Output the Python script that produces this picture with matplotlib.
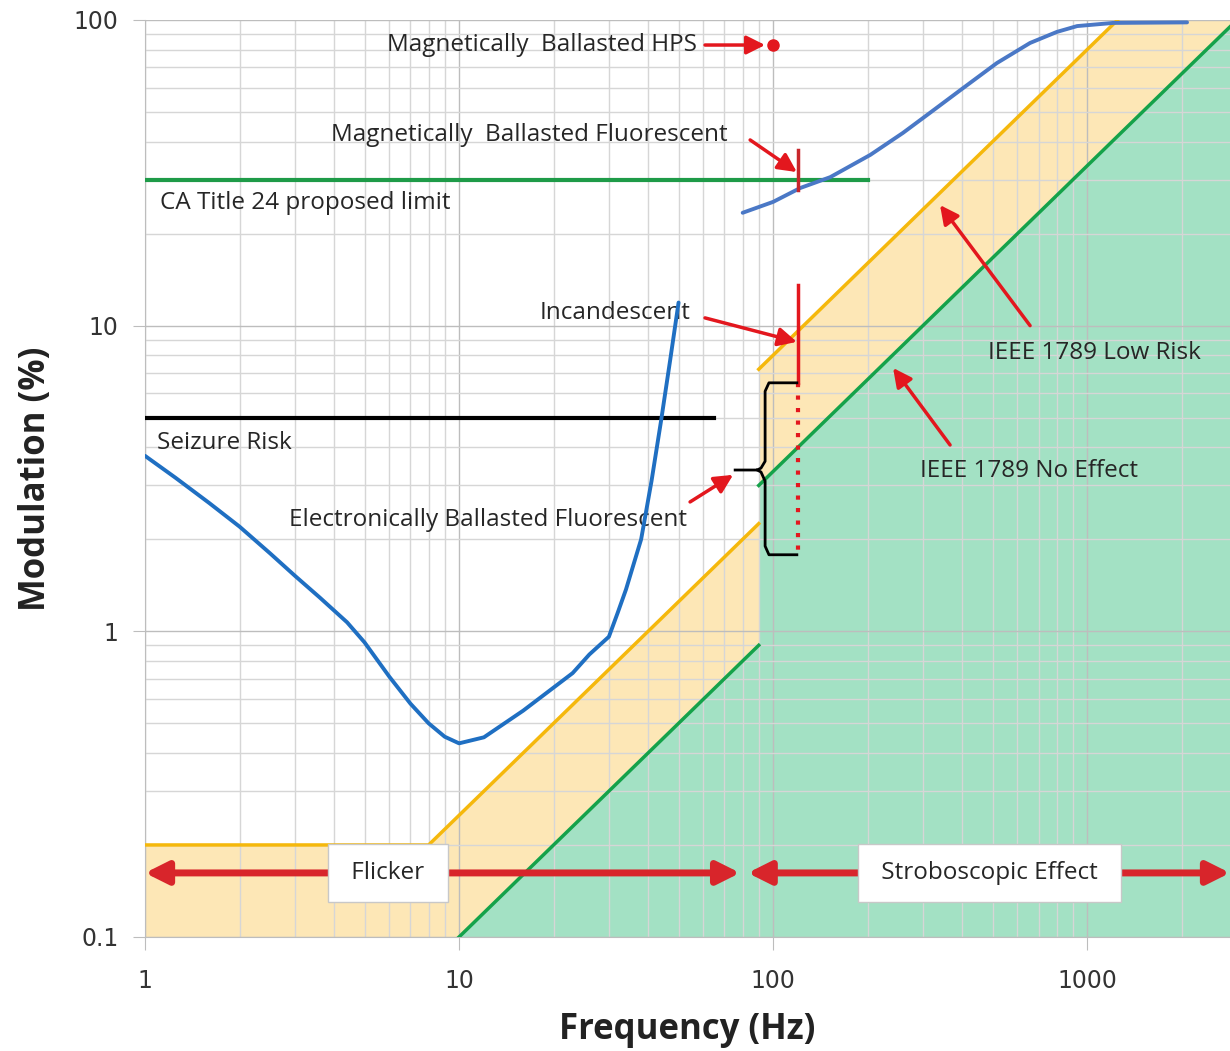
import matplotlib
matplotlib.use("Agg")
import matplotlib.pyplot as plt
from matplotlib.ticker import LogLocator, NullFormatter, FixedLocator, FixedFormatter

plt.rcParams['font.family'] = ['Open Sans', 'DejaVu Sans']

# --- data ---
# electronically ballasted fluorescent / visibility curve (left blue curve)
vis_freq = [1, 1.25, 1.6, 2, 2.5, 3, 3.6, 4.4, 5, 6, 7, 8, 9, 10, 12, 16, 23, 26, 30, 32,
            34, 38, 41, 44, 47, 50]
vis_mod = [3.75, 3.18, 2.63, 2.2, 1.8, 1.52, 1.29, 1.07, 0.92, 0.71, 0.58, 0.5, 0.452, 0.43,
           0.45, 0.55, 0.73, 0.84, 0.96, 1.15, 1.37, 2.0, 3.1, 4.9, 7.7, 11.9]

# magnetically ballasted fluorescent (upper blue curve)
mag_freq = [80, 100, 122, 152, 204, 259, 316, 403, 516, 658, 801, 929, 1210, 2080]
mag_mod = [23.4, 25.4, 28.2, 30.6, 36.2, 42.7, 49.7, 59.9, 72.3, 84.1, 91.4, 95.5, 97.8, 98.2]

# IEEE 1789 low risk boundary (two segments)
low1_freq = [1, 8, 90]
low1_mod = [0.2, 0.2, 2.25]
low2_freq = [90, 1250, 2850]
low2_mod = [7.2, 100, 100]

# IEEE 1789 no effect boundary (two segments)
none1_freq = [10, 90]
none1_mod = [0.1, 0.9]
none2_freq = [90, 3000]
none2_mod = [3.0, 100]

# reference levels
ca_freq = [1, 200]
ca_mod = [30, 30]
seizure_freq = [1, 65]
seizure_mod = [5, 5]

hps_freq = [100]
hps_mod = [83]

incand_freq = 120
incand_mod = [13.6, 6.5]
ebf_mod = [6.5, 1.78]

RED = '#E3171E'
TXT = '#262626'

fig = plt.figure(figsize=(12.3, 10.51), dpi=100)
ax = fig.add_axes([0.1179, 0.1085, 0.8821, 0.8725])
ax.set_xscale('log')
ax.set_yscale('log')
ax.set_xlim(1, 2850)
ax.set_ylim(0.1, 100)

# shaded regions
ax.fill_between(low1_freq + low2_freq, 0.1, low1_mod + low2_mod, color='#FDE7B6', lw=0, zorder=1)
ax.fill_between(none1_freq + none2_freq, 0.1, none1_mod + none2_mod, color='#A3E1C4', lw=0, zorder=1)

# grid (excel style, every 1..9)
ax.xaxis.set_minor_locator(LogLocator(base=10, subs=range(2, 10), numticks=20))
ax.yaxis.set_minor_locator(LogLocator(base=10, subs=range(2, 10), numticks=20))
ax.xaxis.set_minor_formatter(NullFormatter())
ax.yaxis.set_minor_formatter(NullFormatter())
ax.grid(which='major', color='#BDBDBD', lw=1.0, zorder=1.5)
ax.grid(which='minor', color='#D6D6D6', lw=1.0, zorder=1.5)

# boundary lines
ax.plot(low1_freq, low1_mod, color='#F5B80C', lw=2.5, zorder=3)
ax.plot(low2_freq[:2], low2_mod[:2], color='#F5B80C', lw=2.5, zorder=3)
ax.plot(none1_freq, none1_mod, color='#15A24A', lw=2.5, zorder=3)
ax.plot(none2_freq, none2_mod, color='#15A24A', lw=2.5, zorder=3)
ax.plot(ca_freq, ca_mod, color='#1E9B48', lw=3, zorder=3)
ax.plot(seizure_freq, seizure_mod, color='black', lw=3, zorder=3)

# curves
ax.plot(vis_freq, vis_mod, color='#1F6FC2', lw=2.8, zorder=4, solid_capstyle='round',
        solid_joinstyle='round')
ax.plot(mag_freq, mag_mod, color='#4A78C6', lw=2.8, zorder=4, solid_capstyle='round',
        solid_joinstyle='round')
ax.plot(hps_freq, hps_mod, 'o', color=RED, ms=8, zorder=5)

# incandescent / electronic ballast markers at 120 Hz
ax.plot([incand_freq, incand_freq], incand_mod, color=RED, lw=2.5, zorder=5)
ax.plot([incand_freq, incand_freq], ebf_mod, color=RED, lw=3, ls=(0, (1, 2)), zorder=5)
ax.plot([incand_freq, incand_freq], [37.6, 27.8], color='#C8262B', lw=2.5, zorder=5)

# brace for electronically ballasted fluorescent
brace_x = [119, 97, 94.3, 94.3, 91.5, 89, 75.7]
brace_y = [6.5, 6.5, 6.1, 3.6, 3.42, 3.37, 3.37]
ax.plot(brace_x, brace_y, color='black', lw=2, zorder=5)
brace_x2 = [89, 91.5, 94.3, 94.3, 97, 119]
brace_y2 = [3.37, 3.32, 3.1, 1.9, 1.78, 1.78]
ax.plot(brace_x2, brace_y2, color='black', lw=2, zorder=5)

arrow = dict(arrowstyle='-|>', color=RED, lw=2.5, mutation_scale=28, shrinkA=0, shrinkB=0)
fs = 17.5

ax.text(57.3, 82.8, 'Magnetically  Ballasted HPS', ha='right', va='center', fontsize=fs, color=TXT)
ax.annotate('', xy=(94.3, 82.8), xytext=(60.7, 82.8), arrowprops=arrow, zorder=6)

ax.text(71.9, 42.1, 'Magnetically  Ballasted Fluorescent', ha='right', va='center', fontsize=fs, color=TXT)
ax.annotate('', xy=(119, 31.8), xytext=(84.5, 40.5), arrowprops=arrow, zorder=6)

ax.text(1.116, 25.2, 'CA Title 24 proposed limit', ha='left', va='center', fontsize=fs, color=TXT)

ax.text(54.4, 11.0, 'Incandescent', ha='right', va='center', fontsize=fs, color=TXT)
ax.annotate('', xy=(119, 8.85), xytext=(60.7, 10.6), arrowprops=arrow, zorder=6)

ax.text(1.09, 4.13, 'Seizure Risk', ha='left', va='center', fontsize=fs, color=TXT)

ax.text(53.2, 2.31, 'Electronically Ballasted Fluorescent', ha='right', va='center', fontsize=fs, color=TXT)
ax.annotate('', xy=(74.6, 3.25), xytext=(54.4, 2.65), arrowprops=arrow, zorder=6)

ax.text(484, 8.14, 'IEEE 1789 Low Risk', ha='left', va='center', fontsize=fs, color=TXT)
ax.annotate('', xy=(340, 24.8), xytext=(658, 10.0), arrowprops=arrow, zorder=6)

ax.text(294, 3.35, 'IEEE 1789 No Effect', ha='left', va='center', fontsize=fs, color=TXT)
ax.annotate('', xy=(241, 7.27), xytext=(366, 4.07), arrowprops=arrow, zorder=6)

# flicker / stroboscopic ranges
darrow = dict(arrowstyle='<|-|>', color='#D8252B', lw=5, mutation_scale=34, shrinkA=0, shrinkB=0)
ax.annotate('', xy=(1.0, 0.162), xytext=(78.5, 0.162), arrowprops=darrow, zorder=6)
ax.annotate('', xy=(83, 0.162), xytext=(2850, 0.162), arrowprops=darrow, zorder=6, annotation_clip=False)
box = dict(boxstyle='square,pad=0.7', fc='white', ec='#C8C8C8', lw=1)
ax.text(5.94, 0.162, ' Flicker ', ha='center', va='center', fontsize=fs, color=TXT, bbox=box, zorder=7)
ax.text(488, 0.162, ' Stroboscopic Effect ', ha='center', va='center', fontsize=fs, color=TXT,
        bbox=box, zorder=7)

# axes
ax.yaxis.set_major_locator(FixedLocator([0.1, 1, 10, 100]))
ax.yaxis.set_major_formatter(FixedFormatter(['0.1', '1', '10', '100']))
ax.xaxis.set_major_locator(FixedLocator([1, 10, 100, 1000]))
ax.xaxis.set_major_formatter(FixedFormatter(['1', '10', '100', '1000']))
ax.tick_params(which='major', length=9, color='#BDBDBD', labelsize=17, labelcolor='#333333', pad=10)
ax.tick_params(axis='x', which='major', pad=14)
ax.tick_params(which='minor', length=0)
for lab in ax.get_xticklabels() + ax.get_yticklabels():
    lab.set_family('DejaVu Sans')
ax.spines['top'].set_visible(False)
ax.spines['right'].set_visible(False)
ax.spines['left'].set_color('#BDBDBD')
ax.spines['bottom'].set_color('#BDBDBD')

ax.set_xlabel('Frequency (Hz)', fontsize=25, fontweight='bold', color='#222222', labelpad=14)
ax.set_ylabel('Modulation (%)', fontsize=25, fontweight='bold', color='#222222', labelpad=14)

fig.savefig('out.png', dpi=100)
